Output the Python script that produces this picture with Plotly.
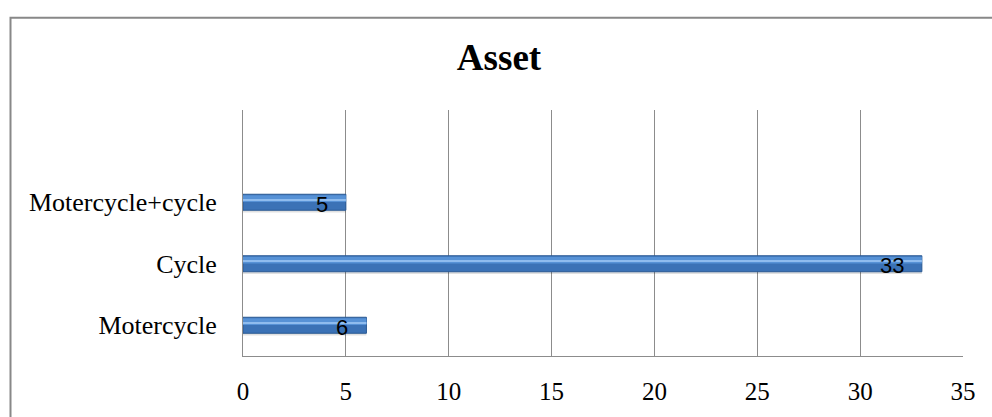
import plotly.graph_objects as go

categories = ["Motercycle", "Cycle", "Motercycle+cycle"]
values = [6, 33, 5]
x_ticks = [0, 5, 10, 15, 20, 25, 30, 35]
title_text = "Asset"

W, H = 992, 417
L, R, T, B = 243, 29, 110, 54
pw, ph = W - L - R, H - T - B

def px_x(p):
    return (p - L) / pw

def px_y(p):
    return (H - B - p) / ph

fig = go.Figure()

# shadow
fig.add_trace(go.Bar(y=categories, x=values, orientation="h", width=0.26, offset=-0.165,
                     marker=dict(color="rgba(0,0,0,0.12)", line=dict(width=0)),
                     hoverinfo="skip", showlegend=False))
# main bar
fig.add_trace(go.Bar(y=categories, x=values, orientation="h", width=0.26, offset=-0.13,
                     marker=dict(color="#3b72b6", line=dict(color="#2a5993", width=1)),
                     showlegend=False))
# upper band
fig.add_trace(go.Bar(y=categories, x=values, orientation="h", width=0.11, offset=0.005,
                     marker=dict(color="#5792d6", line=dict(width=0)),
                     hoverinfo="skip", showlegend=False))
# highlight line
fig.add_trace(go.Bar(y=categories, x=values, orientation="h", width=0.022, offset=0.03,
                     marker=dict(color="#8fbcee", line=dict(width=0)),
                     hoverinfo="skip", showlegend=False))

for c, v in zip(categories, values):
    fig.add_annotation(x=v, y=c, text=str(v), showarrow=False, xanchor="right",
                       xshift=-16, yshift=-2,
                       font=dict(family="Liberation Sans, Arial, sans-serif", size=22, color="black"))

# chart border
fig.add_shape(type="rect", xref="paper", yref="paper",
              x0=px_x(10.5), x1=px_x(1040), y0=px_y(440), y1=px_y(15),
              line=dict(color="#888888", width=2), fillcolor="rgba(0,0,0,0)", layer="below")

fig.update_layout(
    width=W, height=H,
    margin=dict(l=L, r=R, t=T, b=B),
    paper_bgcolor="white", plot_bgcolor="white",
    barmode="overlay",
    title=dict(text="<b>" + title_text + "</b>", x=499 / W, y=1 - 57 / H,
               xanchor="center", yanchor="middle",
               font=dict(family="Liberation Serif, Times New Roman, serif", size=37, color="black")),
    xaxis=dict(range=[0, 35], tickvals=x_ticks, ticktext=[str(t) for t in x_ticks],
               showgrid=True, gridcolor="#8c8c8c", gridwidth=1,
               showline=True, linecolor="#8c8c8c", linewidth=1, mirror=False,
               zeroline=False, ticks="", ticklabelstandoff=13,
               tickfont=dict(family="Liberation Serif, Times New Roman, serif", size=25, color="black"),
               fixedrange=True),
    yaxis=dict(type="category", range=[-0.5, 3.5], categoryorder="array", categoryarray=categories,
               showgrid=False, showline=True, linecolor="#8c8c8c", linewidth=1,
               zeroline=False, ticks="", ticklabelstandoff=20,
               tickfont=dict(family="Liberation Serif, Times New Roman, serif", size=26, color="black"),
               fixedrange=True),
)

fig.write_html("out.html")
